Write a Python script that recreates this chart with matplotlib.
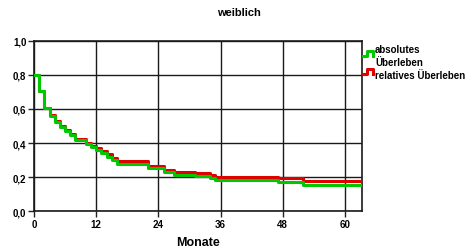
import matplotlib
matplotlib.use("Agg")
import matplotlib.pyplot as plt
from matplotlib.lines import Line2D

# Kaplan-Meier style steps (months, survival)
months = [0, 1, 2, 3, 4, 5, 6, 7, 8, 10, 11, 12, 13, 14, 15, 16, 22, 25, 27, 31, 34, 35, 47, 52, 63.3]
absolut = [0.80, 0.705, 0.605, 0.56, 0.525, 0.495, 0.47, 0.445, 0.415, 0.395, 0.378, 0.36,
           0.34, 0.318, 0.298, 0.278, 0.253, 0.228, 0.214, 0.204, 0.192, 0.181, 0.168, 0.155, 0.155]
relativ = [0.80, 0.705, 0.605, 0.565, 0.53, 0.50, 0.478, 0.452, 0.422, 0.40, 0.385, 0.37,
           0.351, 0.333, 0.31, 0.292, 0.267, 0.243, 0.232, 0.222, 0.21, 0.198, 0.194, 0.176, 0.176]

xticks = [0, 12, 24, 36, 48, 60]
yticks = [0.0, 0.2, 0.4, 0.6, 0.8, 1.0]
ylabels = ["0,0", "0,2", "0,4", "0,6", "0,8", "1,0"]

font = ["Liberation Sans", "DejaVu Sans"]
green = "#00c800"
red = "#e00000"

W, H = 469, 251
fig = plt.figure(figsize=(W / 100, H / 100), dpi=100)
ax = fig.add_axes([34 / W, 1 - 212 / H, (362 - 34) / W, (212 - 42) / H])

ax.step(months, relativ, where="post", color=red, lw=2.2, zorder=3)
ax.step(months, absolut, where="post", color=green, lw=2.2, zorder=4)

ax.set_xlim(0, 63.3)
ax.set_ylim(0, 1.0)
ax.set_xticks(xticks)
ax.set_yticks(yticks)
ax.set_yticklabels(ylabels)
for lab in ax.get_xticklabels() + ax.get_yticklabels():
    lab.set_family(font)
    lab.set_fontweight("bold")
    lab.set_fontsize(7)
ax.tick_params(direction="out", length=4, width=1, pad=1.5, color="#222222")
ax.grid(True, color="#1a1a1a", lw=1.0, zorder=1)
for sp in ax.spines.values():
    sp.set_linewidth(1.2)
    sp.set_color("#1a1a1a")

ax.set_xlabel("Monate", family=font, fontweight="bold", fontsize=9, labelpad=5)
fig.text(239 / W, 1 - 13 / H, "weiblich", family=font, fontweight="bold",
         fontsize=8, ha="center", va="center")

# legend drawn by hand: step-shaped handles outside the axes
def px(x, y):
    return x / W, 1 - y / H

for col, y0 in [(green, 57), (red, 75)]:
    xs = [363, 367, 367, 373, 373]
    ys = [y0, y0, y0 - 5, y0 - 5, y0]
    pts = [px(a, b) for a, b in zip(xs, ys)]
    fig.add_artist(Line2D([p[0] for p in pts], [p[1] for p in pts], color=col,
                          lw=2.2, transform=fig.transFigure))

for txt, yb in [("absolutes", 53), ("Überleben", 66), ("relatives Überleben", 79)]:
    fig.text(*px(375, yb), txt, family=font, fontweight="bold",
             fontsize=7.0, ha="left", va="baseline")

fig.savefig("out.png", dpi=100)
